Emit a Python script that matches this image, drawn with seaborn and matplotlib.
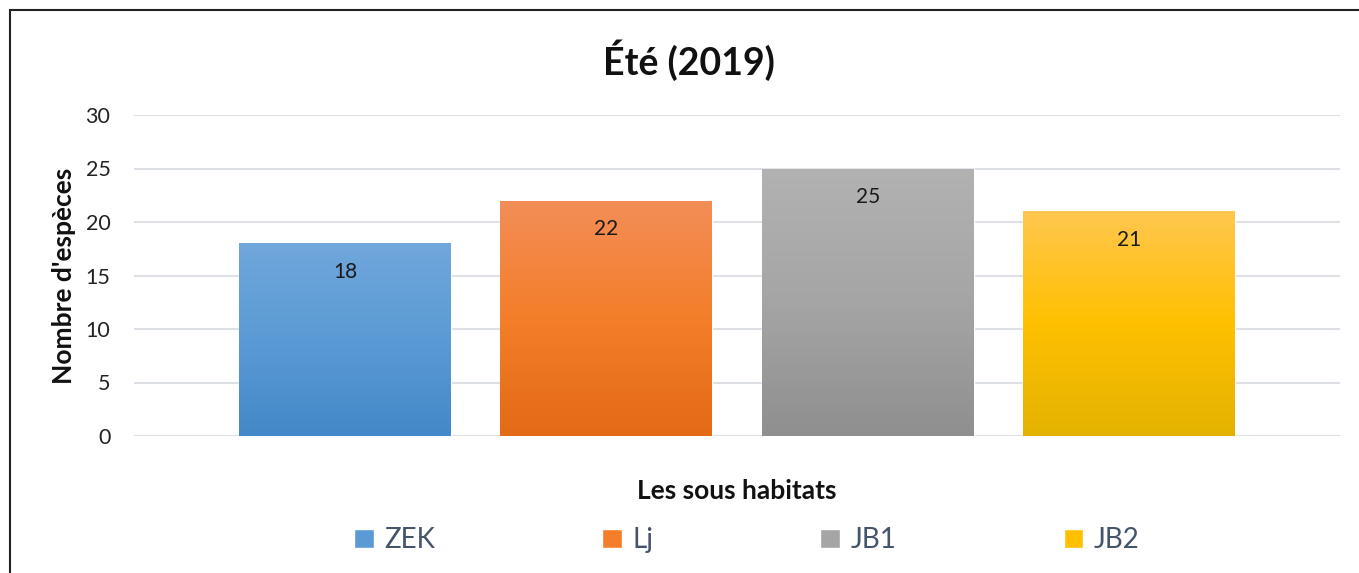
import numpy as np
import pandas as pd
import matplotlib
matplotlib.use("Agg")
import matplotlib.pyplot as plt
import seaborn as sns
from matplotlib.colors import LinearSegmentedColormap
from matplotlib.patches import Rectangle

# données
habitats = ["ZEK", "Lj", "JB1", "JB2"]
nb_especes = [18, 22, 25, 21]
couleurs = ["#5B9BD5", "#F47E2A", "#A5A5A5", "#FFC000"]
# dégradé style Excel : haut clair, milieu, bas foncé
degrades = [
    ["#70A7DC", "#5B9BD5", "#4388C8"],
    ["#F28E58", "#F47E2A", "#E36A17"],
    ["#B2B2B2", "#A5A5A5", "#8F8F8F"],
    ["#FFC74F", "#FFC000", "#E3B200"],
]

df = pd.DataFrame({"habitat": habitats, "especes": nb_especes})

sns.set_style("white")
plt.rcParams["font.family"] = ["Lato", "DejaVu Sans"]

fig = plt.figure(figsize=(13.59, 5.73), dpi=100)
ax = fig.add_axes([134 / 1359, 1 - 436 / 573, 1206 / 1359, 321 / 573])

sns.barplot(data=df, x="habitat", y="especes", hue="habitat",
            palette=couleurs, width=0.81, saturation=1, legend=False, ax=ax)

xlim = (-0.807, 3.807)
ylim = (0, 30)

# remplir chaque barre avec un dégradé vertical
for patch, cols in zip(ax.patches, degrades):
    x0, y0 = patch.get_x(), patch.get_y()
    w, h = patch.get_width(), patch.get_height()
    cmap = LinearSegmentedColormap.from_list("g", cols[::-1])
    grad = np.linspace(1, 0, 256).reshape(-1, 1)
    im = ax.imshow(grad, extent=[x0, x0 + w, y0, y0 + h], aspect="auto",
                   cmap=cmap, vmin=0, vmax=1, zorder=2)
    im.set_clip_path(patch)

ax.set_xlim(*xlim)
ax.set_ylim(*ylim)
ax.set_yticks(range(0, 31, 5))
ax.yaxis.grid(True, color="#DDE1E6", linewidth=1.5)
ax.set_axisbelow(True)
for s in ax.spines.values():
    s.set_visible(False)
ax.tick_params(axis="y", length=0, pad=17, labelsize=15.5, labelcolor="#222222")
ax.set_xticks([])

# étiquettes de données
for c in ax.containers:
    ax.bar_label(c, label_type="edge", padding=-28, fontsize=15, color="#1a1a1a")

ax.set_ylabel("Nombre d'espèces", fontsize=19, fontweight="bold", color="#111111")
ax.yaxis.set_label_coords(-0.048, 0.5)
ax.set_xlabel("Les sous habitats", fontsize=19, fontweight="bold", color="#111111")
ax.xaxis.set_label_coords(0.5, -0.135)

fig.text(689 / 1359, 1 - 60 / 573, "Été (2019)", ha="center", va="center",
         fontsize=27, fontweight="bold", color="#111111")

# légende
handles = [Rectangle((0, 0), 1, 1, facecolor=c) for c in couleurs]
leg = fig.legend(handles, habitats, loc="center", bbox_to_anchor=(747 / 1359, 1 - 540 / 573),
                 ncol=4, frameon=False, fontsize=20, handlelength=0.7, handleheight=0.7,
                 handletextpad=0.4, columnspacing=6.0)
for t in leg.get_texts():
    t.set_color("#44546A")

# cadre du graphique
fig.patches.append(Rectangle((10 / 1359, -0.1), 1.2, 0.1 + 1 - 10 / 573,
                             transform=fig.transFigure, fill=False,
                             edgecolor="#222222", linewidth=1.5, figure=fig))

fig.savefig("out.png", dpi=100)
